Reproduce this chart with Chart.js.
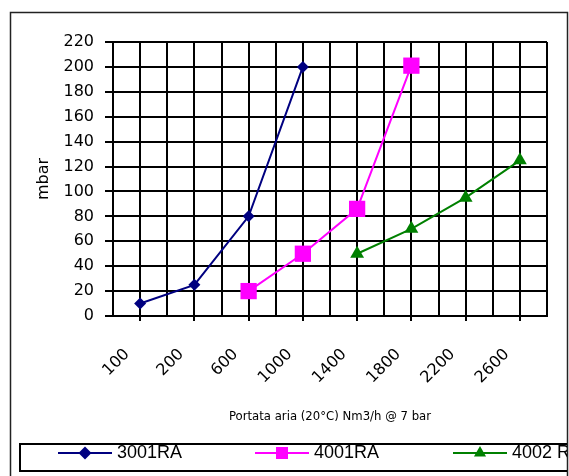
<!DOCTYPE html>
<html>
<head>
<meta charset="utf-8">
<script src="https://cdn.jsdelivr.net/npm/chart.js@4/dist/chart.umd.min.js"></script>
<style>
    html, body { margin: 0; padding: 0; background: #ffffff; }
    canvas { display: block; }
</style>
</head>
<body>
<canvas id="statsChart" width="569" height="476"></canvas>
<script>
// Chart data
const categories = ["100", "200", "600", "1000", "1400", "1800", "2200", "2600"];
const seriesNames = ["3001RA", "4001RA", "4002 RA"];
const values3001 = [10, 25, 80, 200, null, null, null, null];
const values4001 = [null, null, 20, 50, 86, 201, null, null];
const values4002 = [null, null, null, null, 50, 70, 95, 125];
const yMin = 0;
const yMax = 220;
const yStep = 20;
const yTitle = "mbar";
const xTitle = "Portata aria (20°C) Nm3/h @ 7 bar";

// turn a value list into points on the index axis
function toPoints(values)
{
    return values
        .map((v, i) => ({ x: i, y: v }))
        .filter(p => p.y !== null);
}

const colors = ["#000080", "#ff00ff", "#008000"];
const styles = ["rectRot", "rect", "triangle"];
const radii = [6, 11.5, 8];
const legendRadii = [6.5, 8.5, 7];

// outer frame + hand drawn legend (line with marker), clipped like the original
const framePlugin = {
    id: "frame",
    afterDraw(chart)
    {
        const ctx = chart.ctx;
        ctx.save();
        ctx.strokeStyle = "#222";
        ctx.lineWidth = 1.5;
        ctx.strokeRect(10.5, 12.5, 557, 480);

        ctx.beginPath();
        ctx.rect(0, 0, 567, 476);
        ctx.clip();

        ctx.strokeStyle = "#000";
        ctx.lineWidth = 2;
        ctx.strokeRect(20, 444, 580, 27);

        const startX = [58, 255, 453];
        const y = 453;
        chart.data.datasets.forEach((ds, i) =>
        {
            ctx.strokeStyle = ds.borderColor;
            ctx.fillStyle = ds.borderColor;
            ctx.lineWidth = 2;
            ctx.beginPath();
            ctx.moveTo(startX[i], y);
            ctx.lineTo(startX[i] + 54, y);
            ctx.stroke();

            Chart.helpers.drawPoint(ctx, {
                pointStyle: ds.pointStyle,
                radius: legendRadii[i],
                rotation: 0,
                borderWidth: 0
            }, startX[i] + 27, y);

            ctx.fillStyle = "#000";
            ctx.font = "18px 'Liberation Sans', Arial, sans-serif";
            ctx.textBaseline = "middle";
            ctx.textAlign = "left";
            ctx.fillText(ds.label, startX[i] + 59, y);
        });
        ctx.restore();
    }
};

const allValues = [values3001, values4001, values4002];

const chart = new Chart(document.getElementById("statsChart"), {
    type: "line",
    data: {
        datasets: allValues.map((vals, i) => ({
            label: seriesNames[i],
            data: toPoints(vals),
            borderColor: colors[i],
            backgroundColor: colors[i],
            borderWidth: 2,
            pointStyle: styles[i],
            pointRadius: radii[i],
            pointHoverRadius: radii[i],
            pointBorderWidth: 0,
            pointBackgroundColor: colors[i],
            tension: 0,
            fill: false
        }))
    },
    options: {
        responsive: false,
        animation: false,
        devicePixelRatio: 1,
        layout: { padding: { top: 42, right: 22, bottom: 36, left: 0 } },
        plugins: {
            legend: { display: false },
            tooltip: { enabled: false }
        },
        scales: {
            x: {
                type: "linear",
                min: -0.5,
                max: categories.length - 0.5,
                afterFit: scale =>
                {
                    scale.height = 124;
                    scale.paddingLeft = 0;
                    scale.paddingRight = 0;
                },
                ticks: {
                    stepSize: 0.5,
                    autoSkip: false,
                    minRotation: 45,
                    maxRotation: 45,
                    padding: 24,
                    labelOffset: -13,
                    color: "#000",
                    font: { family: "'DejaVu Sans', sans-serif", size: 16 },
                    callback: value => Number.isInteger(value) ? categories[value] : ""
                },
                grid: {
                    color: "#000",
                    lineWidth: 2,
                    tickLength: 5,
                    tickColor: c => Number.isInteger(c.tick.value) ? "#000" : "rgba(0,0,0,0)"
                },
                border: { color: "#000", width: 2 },
                title: {
                    display: true,
                    text: xTitle,
                    color: "#000",
                    font: { family: "'DejaVu Sans', sans-serif", size: 11.7 },
                    padding: { top: 0, bottom: 16 }
                }
            },
            y: {
                min: yMin,
                max: yMax,
                afterFit: scale => { scale.width = 113; },
                ticks: {
                    stepSize: yStep,
                    padding: 11,
                    color: "#000",
                    font: { family: "'DejaVu Sans', sans-serif", size: 16 }
                },
                grid: {
                    color: "#000",
                    lineWidth: 2,
                    tickLength: 8
                },
                border: { color: "#000", width: 2 },
                title: {
                    display: true,
                    text: yTitle,
                    color: "#000",
                    font: { family: "'DejaVu Sans', sans-serif", size: 16 },
                    padding: { top: 34, bottom: 0 }
                }
            }
        }
    },
    plugins: [framePlugin]
});
</script>
</body>
</html>
